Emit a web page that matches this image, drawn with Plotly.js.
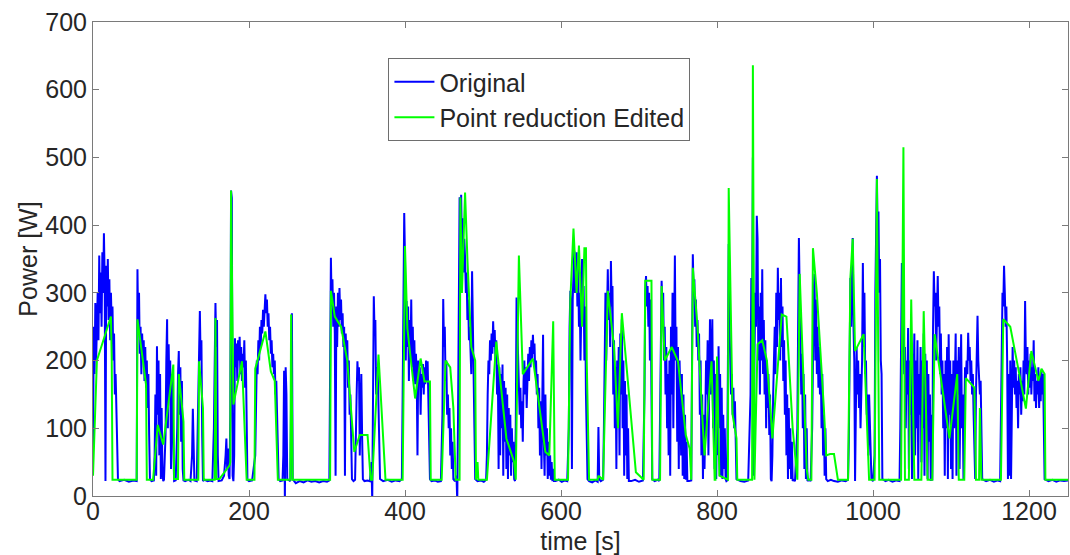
<!DOCTYPE html>
<html>
<head>
<meta charset="utf-8">
<script src="https://cdn.plot.ly/plotly-3.0.1.min.js"></script>
<style>html,body{margin:0;padding:0;background:#fff;}#chart{width:1070px;height:555px;}</style>
</head>
<body>
<div id="chart"></div>
<script>
// Original measured power samples: [time s, power W]
const origPoints = [
[0,70],[1,250],[2,180],[3,285],[4,200],[5,260],[6,300],[7,230],[8,355],[9,270],[10,330],[11,250],[12,360],[13,300],[14,388],[15,320],[16,22],[17,340],[18,280],[19,350],[20,260],[21,320],[22,230],[23,300],[24,250],[25,280],[26,200],[27,240],[28,150],[29,180],[30,120],[31,60],[32,25],[34,22],[40,24],[46,21],[52,23],[56,22],
[57,335],[58,240],[59,300],[60,210],[61,250],[62,180],[63,240],[64,200],[65,230],[66,170],[67,220],[68,160],[69,200],[70,130],[71,180],[72,90],[73,25],[75,22],[78,23],
[79,60],[80,150],[81,30],[82,221],[83,120],[84,200],[85,60],[86,180],[87,25],[88,130],[89,40],[90,22],[91,24],[93,90],[94,200],[95,261],[96,100],[97,224],[98,150],[99,200],[100,40],[101,180],[102,120],[103,60],[104,22],[106,23],[108,100],[109,180],[110,214],[111,120],[112,190],[113,80],[114,170],[115,40],[116,23],[118,22],[122,24],[125,22],[127,60],[128,129],[129,30],[130,23],[133,22],[135,150],[136,240],[137,273],[138,200],[139,230],[140,90],[141,22],[143,24],[147,22],[150,23],[153,22],[155,100],[156,180],[157,285],[158,220],[159,260],[160,60],[161,22],[165,23],[168,30],[170,60],[171,85],[172,40],[173,70],[174,30],[175,25],[176,120],[177,451],[178,440],[179,30],[180,22],[181,60],
[182,233],[183,190],[184,225],[185,170],[186,230],[187,200],[188,235],[189,180],[190,220],[191,170],[192,210],[193,190],[194,230],[195,160],[196,200],[197,100],[198,24],[200,22],[204,23],
[208,60],[209,150],[210,200],[211,180],[212,230],[213,200],[214,250],[215,220],[216,260],[217,240],[218,275],[219,250],[220,285],[221,298],[222,270],[223,290],[224,250],[225,270],[226,230],[227,250],[228,210],[229,230],[230,190],[231,210],[232,180],[233,200],[234,150],[235,170],[236,120],[237,60],[238,25],[240,22],[243,23],[244,60],[245,185],[246,-8],[247,190],[248,150],[249,25],[253,22],[254,150],[255,270],[256,25],[260,19],[265,22],[270,20],[275,23],[280,21],[285,22],[290,20],[295,22],[300,21],[303,23],
[304,200],[305,352],[306,280],[307,320],[308,250],[309,300],[310,240],[311,30],[312,280],[313,220],[314,300],[315,250],[316,307],[317,260],[318,290],[319,240],[320,270],[321,220],[322,250],[323,30],[324,240],[325,200],[326,230],[327,160],[328,200],[329,120],[330,150],[331,60],[332,25],[334,22],[336,24],[338,150],[339,199],[340,170],[341,190],[342,60],[343,140],[344,180],[345,90],[346,25],[348,22],[352,23],[355,22],[357,50],[358,-8],[359,200],[360,295],[361,240],[362,260],[363,150],[364,190],[365,188],[366,120],[367,60],[368,25],[372,22],[378,24],[383,21],[388,23],[393,22],[396,25],
[397,150],[398,300],[399,418],[400,350],[401,200],[402,288],[403,220],[404,280],[405,170],[406,260],[407,200],[408,290],[409,190],[410,250],[411,170],[412,230],[413,165],[414,210],[415,180],[416,60],[417,200],[418,170],[419,190],[420,120],[421,180],[422,160],[423,195],[424,150],[425,190],[426,165],[427,200],[428,170],[429,199],[430,140],[431,90],[432,25],[434,22],[438,23],[442,21],[446,22],
[448,120],[449,291],[450,220],[451,250],[452,170],[453,200],[454,120],[455,150],[456,100],[457,130],[458,60],[459,100],[460,40],[461,80],[462,25],[464,22],[466,30],[467,-8],[468,120],[469,330],[470,441],[471,380],[472,445],[473,360],[474,410],[475,330],[476,380],[477,352],[478,300],[479,330],[480,260],[481,290],[482,230],[483,250],[484,200],[485,180],[486,332],[487,220],[488,175],[489,100],[490,25],[493,22],[497,23],[501,21],[504,24],
[505,60],[506,150],[507,200],[508,180],[509,230],[510,200],[511,240],[512,210],[513,258],[514,220],[515,245],[516,200],[517,230],[518,150],[519,194],[520,40],[521,190],[522,60],[523,180],[524,100],[525,194],[526,30],[527,170],[528,80],[529,160],[530,40],[531,150],[532,25],[533,130],[534,60],[535,120],[536,30],[537,100],[538,50],[539,80],[540,25],[541,22],
[542,100],[543,293],[544,250],[545,200],[546,180],[547,120],[548,160],[549,100],[550,140],[551,80],[552,170],[553,200],[554,150],[555,190],[556,130],[557,180],[558,210],[559,170],[560,220],[561,190],[562,230],[563,200],[564,238],[565,210],[566,225],[567,180],[568,200],[569,150],[570,180],[571,100],[572,160],[573,60],[574,140],[575,40],[576,120],[577,238],[578,80],[579,30],[580,150],[581,60],[582,100],[583,25],[584,80],[585,30],[586,60],[587,24],[588,50],[589,22],[590,40],[591,22],[593,22],[597,24],[601,21],[605,23],[608,22],
[610,100],[611,250],[612,303],[613,280],[614,40],[615,290],[616,330],[617,362],[618,300],[619,350],[620,360],[621,280],[622,340],[623,250],[624,300],[625,200],[626,320],[627,350],[628,260],[629,310],[630,200],[631,280],[632,150],[633,60],[634,25],[636,22],[640,20],[644,23],[647,21],[648,102],[649,25],[651,22],[654,24],
[655,100],[656,250],[657,300],[658,200],[659,320],[660,335],[661,260],[662,300],[663,220],[664,347],[665,280],[666,310],[667,150],[668,230],[669,100],[670,190],[671,40],[672,200],[673,120],[674,220],[675,60],[676,240],[677,150],[678,261],[679,100],[680,200],[681,30],[682,170],[683,60],[684,150],[685,25],[686,100],[687,22],[690,22],[695,24],[700,21],[705,23],
[707,150],[708,300],[709,325],[710,280],[711,310],[712,250],[713,300],[714,200],[715,290],[716,150],[717,25],[720,22],[724,24],[726,22],
[728,200],[729,318],[730,280],[731,300],[732,200],[733,250],[734,150],[735,220],[736,100],[737,180],[738,60],[739,200],[740,30],[741,250],[742,150],[743,300],[744,100],[745,280],[746,355],[747,200],[748,250],[749,80],[750,220],[751,40],[752,200],[753,150],[754,60],[755,180],[756,30],[757,150],[758,25],[759,120],[760,24],[761,80],[762,22],[764,22],[767,23],
[768,200],[769,357],[770,300],[771,320],[772,250],[773,290],[774,220],[775,260],[776,200],[777,240],[778,120],[779,200],[780,60],[781,150],[782,25],[783,120],[784,40],[785,100],[786,200],[787,150],[788,230],[789,60],[790,200],[791,261],[792,150],[793,200],[794,261],[795,100],[796,200],[797,40],[798,180],[799,25],[800,150],[801,60],[802,221],[803,100],[804,180],[805,30],[806,160],[807,25],[808,120],[809,40],[810,100],[811,25],[812,22],[813,23],
[814,200],[815,372],[816,250],[817,180],[818,150],[819,180],[820,120],[821,160],[822,100],[823,140],[824,60],[825,25],[830,22],[835,21],[840,23],
[843,150],[844,322],[845,250],[846,500],[847,30],[848,200],[849,300],[850,250],[851,414],[852,380],[853,200],[854,280],[855,150],[856,300],[857,200],[858,335],[859,180],[860,260],[861,150],[862,230],[863,100],[864,200],[865,130],[866,180],[867,90],[868,150],[869,25],[870,22],
[871,60],[872,150],[873,200],[874,250],[875,180],[876,300],[877,220],[878,337],[879,260],[880,300],[881,200],[882,322],[883,220],[884,280],[885,170],[886,230],[887,120],[888,200],[889,60],[890,150],[891,25],[892,130],[893,40],[894,100],[895,25],[896,80],[897,22],[898,24],[900,22],
[903,100],[904,250],[905,381],[906,300],[907,220],[908,150],[909,210],[910,100],[911,180],[912,40],[913,150],[914,25],[915,100],[916,22],[918,24],[920,22],
[922,100],[923,250],[924,300],[925,328],[926,200],[927,290],[928,180],[929,250],[930,160],[931,220],[932,150],[933,200],[934,100],[935,180],[936,60],[937,120],[938,30],[939,100],[940,25],[942,22],[946,24],[950,22],[955,21],[960,23],[965,22],[968,24],
[969,80],[970,200],[971,322],[972,250],[973,300],[974,381],[975,250],[976,200],[977,22],[978,180],[979,220],[980,150],[981,200],[982,130],[983,180],[984,100],[985,160],[986,200],[987,344],[988,220],[989,300],[990,180],[991,200],[992,120],[993,150],[994,60],[995,150],[996,100],[997,60],[998,25],[1000,22],
[1002,60],[1003,300],[1004,430],[1005,473],[1006,380],[1007,420],[1008,300],[1009,350],[1010,200],[1011,180],[1012,25],[1016,22],[1020,24],[1025,21],[1030,23],[1034,22],
[1035,100],[1036,250],[1037,344],[1038,300],[1039,250],[1040,180],[1041,220],[1042,100],[1043,200],[1044,150],[1045,248],[1046,40],[1047,200],[1048,120],[1049,230],[1050,25],[1051,210],[1052,150],[1053,240],[1054,60],[1055,200],[1056,100],[1057,230],[1058,25],[1059,180],[1060,120],[1061,220],[1062,50],[1063,200],[1064,100],[1065,240],[1066,30],[1067,210],[1068,130],[1069,200],[1070,25],[1071,180],[1072,80],[1073,150],[1074,22],[1075,120],[1076,23],
[1077,250],[1078,332],[1079,280],[1080,300],[1081,200],[1082,260],[1083,325],[1084,250],[1085,280],[1086,180],[1087,240],[1088,150],[1089,200],[1090,100],[1091,180],[1092,30],[1093,200],[1094,100],[1095,220],[1096,25],[1097,239],[1098,120],[1099,200],[1100,40],[1101,180],[1102,25],[1103,200],[1104,100],[1105,220],[1106,240],[1107,30],[1108,200],[1109,150],[1110,220],[1111,40],[1112,180],[1113,239],[1114,100],[1115,150],[1116,25],[1117,180],[1118,190],[1119,170],[1120,200],[1121,180],[1122,241],[1123,200],[1124,220],[1125,170],[1126,200],[1127,150],[1128,180],[1129,120],[1130,60],[1131,25],[1132,150],[1133,220],[1134,266],[1135,200],[1136,180],[1137,150],[1138,170],[1139,60],[1140,25],[1145,22],[1150,24],[1155,21],[1160,23],[1163,22],
[1164,100],[1165,250],[1166,300],[1167,280],[1168,340],[1169,300],[1170,250],[1171,280],[1172,200],[1173,25],[1174,180],[1175,30],[1176,200],[1177,25],[1178,150],[1179,220],[1180,160],[1181,200],[1182,150],[1183,190],[1184,130],[1185,170],[1186,100],[1187,180],[1188,150],[1189,190],[1190,120],[1191,170],[1192,140],[1193,200],[1194,150],[1195,288],[1196,200],[1197,180],[1198,220],[1199,150],[1200,200],[1201,160],[1202,210],[1203,150],[1204,190],[1205,170],[1206,230],[1207,140],[1208,180],[1209,130],[1210,170],[1211,150],[1212,190],[1213,130],[1214,180],[1215,140],[1216,185],[1217,150],[1218,180],[1219,100],[1220,25],[1225,22],[1230,24],[1235,21],[1240,23],[1245,22],[1250,23]
];

// Point-reduced (edited) series: [time s, power W]
const editPoints = [
[0,30],[2,110],[5,200],[23,265],[24,200],[25,24],[56,24],[57,261],[68,165],[69,24],[77,24],[83,105],[90,76],[103,194],[104,25],[109,25],[110,180],[116,110],[117,24],[135,24],[136,199],[141,130],[142,24],[156,24],[157,263],[158,25],[162,25],[175,45],[176,50],[177,451],[180,135],[191,199],[197,24],[207,24],[208,188],[221,243],[228,184],[233,170],[237,24],[253,24],[254,268],[256,24],[304,24],[305,303],[310,265],[318,250],[326,200],[335,65],[342,90],[352,90],[356,24],[358,24],[366,209],[375,24],[397,24],[400,369],[403,248],[413,144],[420,203],[425,169],[432,169],[433,24],[447,24],[452,200],[458,190],[462,130],[465,24],[470,24],[471,441],[473,300],[477,448],[480,350],[485,220],[490,200],[491,24],[493,50],[494,24],[505,24],[517,228],[530,85],[540,50],[542,24],[546,355],[551,180],[564,203],[580,65],[585,60],[590,258],[592,24],[609,24],[612,290],[616,395],[620,300],[623,370],[627,250],[630,366],[632,366],[633,199],[636,24],[647,24],[648,30],[654,24],[660,303],[668,220],[673,100],[678,270],[696,35],[706,24],[708,318],[716,318],[717,24],[727,24],[729,310],[733,200],[742,220],[750,199],[760,90],[765,70],[767,24],[769,337],[775,250],[782,100],[784,60],[793,199],[797,24],[798,24],[800,206],[803,30],[814,24],[815,455],[820,120],[825,85],[826,24],[845,24],[846,636],[848,24],[852,224],[858,230],[864,200],[869,120],[871,85],[883,268],[889,265],[897,100],[903,24],[906,328],[915,40],[917,24],[921,24],[923,366],[928,300],[937,130],[940,60],[945,62],[950,62],[955,24],[968,24],[971,322],[974,380],[977,214],[988,239],[995,24],[1002,24],[1005,468],[1008,24],[1036,24],[1039,515],[1041,24],[1046,24],[1049,290],[1053,24],[1062,24],[1065,273],[1070,24],[1076,24],[1079,239],[1098,85],[1108,180],[1110,24],[1117,24],[1119,174],[1130,160],[1132,24],[1136,24],[1137,130],[1139,24],[1164,24],[1167,261],[1176,250],[1196,129],[1203,214],[1212,170],[1216,188],[1220,180],[1221,24],[1250,24]
];

const seriesNames = ['Original', 'Point reduction Edited'];
const xTicks = [0, 200, 400, 600, 800, 1000, 1200];
const yTicks = [0, 100, 200, 300, 400, 500, 600, 700];

const font = {family: 'Liberation Sans, Arial, sans-serif', size: 25, color: '#262626'};
const axisCommon = {
  showline: true, linecolor: '#7a7a7a', linewidth: 1, mirror: 'ticks',
  ticks: 'inside', ticklen: 6, tickcolor: '#7a7a7a', tickwidth: 1,
  showgrid: false, zeroline: false, tickfont: font
};

const traces = [
  {x: origPoints.map(p => p[0]), y: origPoints.map(p => p[1]), name: seriesNames[0],
   type: 'scatter', mode: 'lines', line: {color: '#0000ff', width: 2}},
  {x: editPoints.map(p => p[0]), y: editPoints.map(p => p[1]), name: seriesNames[1],
   type: 'scatter', mode: 'lines', line: {color: '#00ff00', width: 2}}
];

const layout = {
  width: 1070, height: 555,
  margin: {l: 93, r: 2, t: 22, b: 59},
  paper_bgcolor: '#ffffff', plot_bgcolor: '#ffffff',
  font: font,
  showlegend: true,
  legend: {x: 0.303, y: 0.924, xanchor: 'left', yanchor: 'top',
    bgcolor: '#ffffff', bordercolor: '#6e6e6e', borderwidth: 1,
    font: font, tracegroupgap: 0, itemwidth: 40},
  xaxis: Object.assign({}, axisCommon, {range: [0, 1250], tickvals: xTicks, ticktext: xTicks.map(String),
    ticklabelstandoff: -7,
    title: {text: 'time [s]', font: font, standoff: 9}}),
  yaxis: Object.assign({}, axisCommon, {range: [0, 700], tickvals: yTicks, ticktext: yTicks.map(String),
    ticklabelstandoff: 0,
    title: {text: 'Power [W]', font: font, standoff: 0}})
};

Plotly.newPlot('chart', traces, layout, {staticPlot: true, displayModeBar: false});
</script>
</body>
</html>
